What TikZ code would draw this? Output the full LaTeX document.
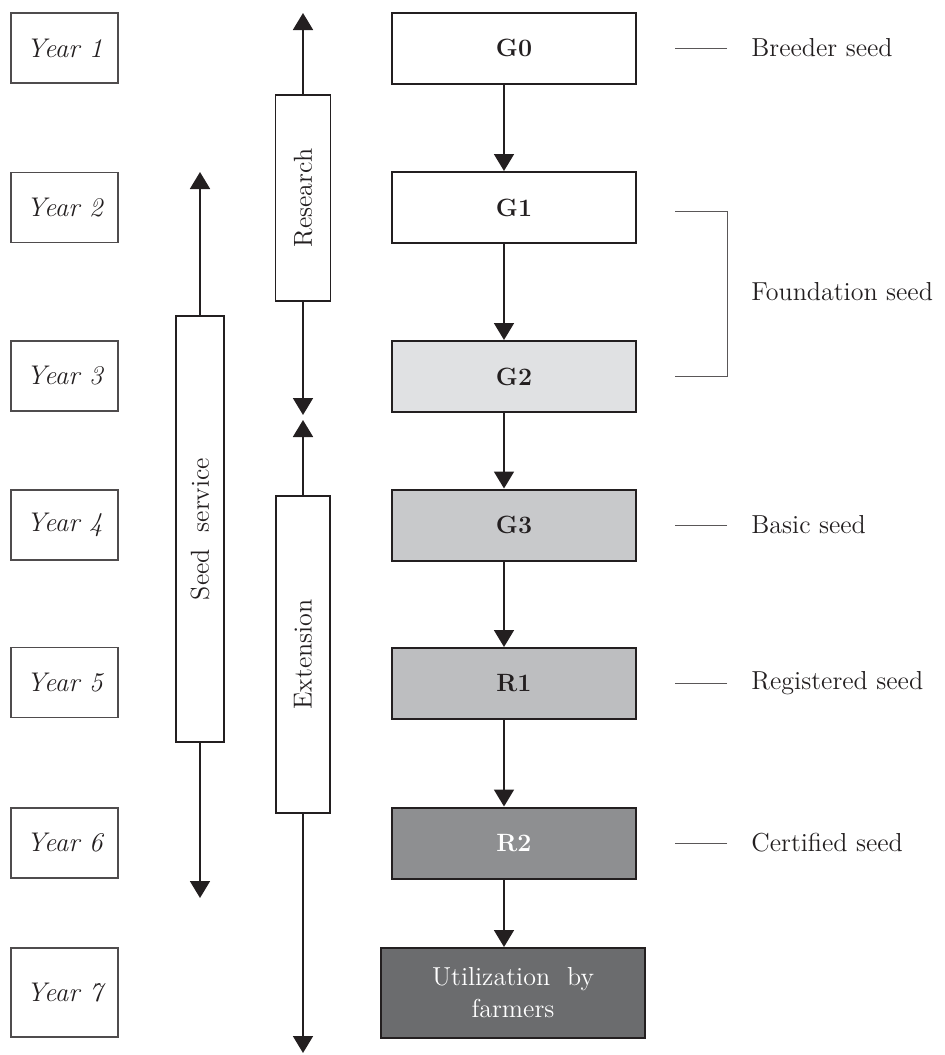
\documentclass[tikz,border=0pt]{standalone}
\usepackage{fontspec}
\usepackage{graphicx}
\usetikzlibrary{positioning,arrows.meta}
\definecolor{ink}{RGB}{35,31,32}
\definecolor{gtwo}{RGB}{224,225,227}
\definecolor{gthree}{RGB}{200,201,203}
\definecolor{rone}{RGB}{189,190,192}
\definecolor{rtwo}{RGB}{142,143,145}
\definecolor{use}{RGB}{107,108,110}
\tikzset{
  yearbox/.style={draw=ink!80,line width=0.6pt,minimum width=53.5pt,minimum height=35pt,font=\fontsize{13.5}{15}\selectfont\itshape,text=ink},
  gen/.style={draw=ink,line width=1pt,minimum width=122pt,minimum height=35.5pt,font=\fontsize{12.5}{14}\selectfont\bfseries,text=ink},
  vbar/.style={draw=ink,line width=0.8pt,inner sep=1pt,font=\fontsize{13}{15}\selectfont,text=ink},
  flow/.style={-{Triangle[length=8.5pt,width=10pt]},line width=0.9pt,draw=ink},
  tick/.style={draw=ink!75,line width=0.5pt},
  seedlbl/.style={anchor=west,inner sep=0pt,font=\fontsize{13}{15}\selectfont,text=ink},
}
\begin{document}
\begin{tikzpicture}[x=0.5pt,y=-0.5pt]
  \useasboundingbox (0,0) rectangle (945,1055);
  % years
  \node[yearbox] (yr1) at (64.5,48) {Year 1};
  \node[yearbox] (yr2) at (64.5,207.5) {Year 2};
  \node[yearbox] (yr3) at (64.5,376) {Year 3};
  \node[yearbox] (yr4) at (64.5,525) {Year 4};
  \node[yearbox] (yr5) at (64.5,682.5) {Year 5};
  \node[yearbox] (yr6) at (64.5,843) {Year 6};
  \node[yearbox,minimum height=44.5pt] (yr7) at (64.5,992.5) {Year 7};
  % generations
  \node[gen] (g0) at (514,48) {G0};
  \node[gen] (g1) at (514,207.5) {G1};
  \node[gen,fill=gtwo] (g2) at (514,376.5) {G2};
  \node[gen,fill=gthree] (g3) at (514,525) {G3};
  \node[gen,fill=rone] (r1) at (514,683.5) {R1};
  \node[gen,fill=rtwo,text=white] (r2) at (514,843) {R2};
  \node[gen,fill=use,text=white,minimum width=132pt,minimum height=45pt,align=center,
        font=\fontsize{13}{16}\selectfont] (farm) at (513,993) {Utilization\ \ by\\farmers};
  \draw[flow] ([xshift=-5pt]g0.south) -- ([xshift=-5pt]g1.north);
  \draw[flow] ([xshift=-5pt]g1.south) -- ([xshift=-5pt]g2.north);
  \draw[flow] ([xshift=-5pt]g2.south) -- ([xshift=-5pt]g3.north);
  \draw[flow] ([xshift=-5pt]g3.south) -- ([xshift=-5pt]r1.north);
  \draw[flow] ([xshift=-5pt]r1.south) -- ([xshift=-5pt]r2.north);
  \draw[flow] ([xshift=-5pt]r2.south) -- ([xshift=-4.5pt]farm.north);
  % seed classes
  \node[seedlbl] (brd) at (751,48) {Breeder seed};
  \node[seedlbl] (fnd) at (751,292) {Foundation seed};
  \node[seedlbl] (bas) at (751,525) {Basic seed};
  \node[seedlbl] (reg) at (751,683.5) {Registered seed};
  \node[seedlbl] (cer) at (751,843) {Certified seed};
  \draw[tick] ([xshift=-12pt]brd.west) -- ++(-26pt,0);
  \draw[tick] ([xshift=-12pt]bas.west) -- ++(-26pt,0);
  \draw[tick] ([xshift=-12pt]reg.west) -- ++(-26pt,0);
  \draw[tick] ([xshift=-12pt]cer.west) -- ++(-26pt,0);
  \coordinate (fb1) at (675,211);
  \coordinate (fb2) at (675,376);
  \draw[tick] (fb1) -- ++(26pt,0) |- (fb2);
  % responsibilities
  \node[vbar,minimum width=27.5pt,minimum height=103pt] (res) at (303,198) {\rotatebox{90}{Research}};
  \node[vbar,minimum width=27pt,minimum height=158.5pt] (ext) at (303,654.5) {\rotatebox{90}{Extension}};
  \node[vbar,minimum width=24pt,minimum height=213pt] (svc) at (200,529) {\rotatebox{90}{Seed\ \ service}};
  \coordinate (resup) at (303,13);
  \coordinate (resdn) at (303,415);
  \coordinate (extup) at (303,420);
  \coordinate (extdn) at (303,1053);
  \coordinate (svcup) at (200,172);
  \coordinate (svcdn) at (200,898);
  \draw[flow] (res.north) -- (resup);
  \draw[flow] (res.south) -- (resdn);
  \draw[flow] (ext.north) -- (extup);
  \draw[flow] (ext.south) -- (extdn);
  \draw[flow] (svc.north) -- (svcup);
  \draw[flow] (svc.south) -- (svcdn);
\end{tikzpicture}
\end{document}
